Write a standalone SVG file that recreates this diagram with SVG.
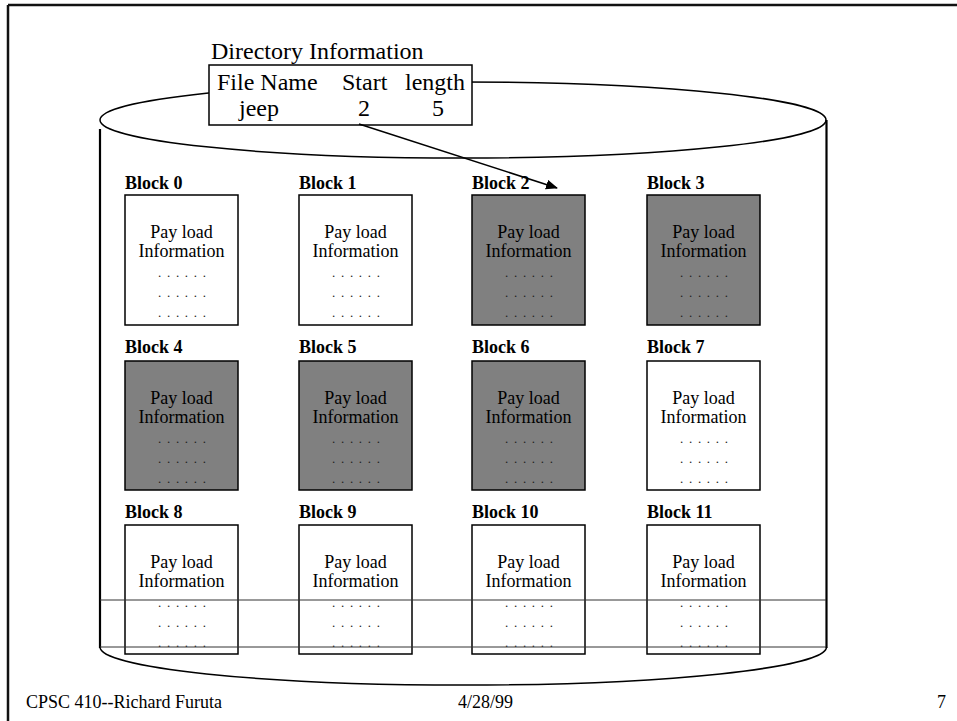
<svg xmlns="http://www.w3.org/2000/svg" width="957" height="721" viewBox="0 0 957 721">
<style>
text{font-family:"Liberation Serif","Times New Roman",serif;fill:#000}
.lbl{font-size:18px;font-weight:bold}
.pl{font-size:18px;text-anchor:middle}
.dots{font-size:13px;fill:#222}
.big{font-size:24px}
.ft{font-size:18px}
.box{stroke:#000;stroke-width:1.5}
.w{fill:#fff}
.g{fill:#808080}
.cyl{fill:none;stroke:#000;stroke-width:1.5}
.wall{stroke:#000;stroke-width:2.2;fill:none}
.hl{stroke:#333;stroke-width:1;fill:none}
</style>
<defs>
<marker id="ah" markerWidth="12" markerHeight="10" refX="11" refY="5" orient="auto" markerUnits="userSpaceOnUse">
<path d="M0,0 L12,5 L0,10 Z" fill="#000"/>
</marker>
<g id="content">
<text class="pl" x="56.5" y="43">Pay load</text>
<text class="pl" x="56.5" y="62">Information</text>
<text class="dots" x="33" y="82" textLength="48" lengthAdjust="spacing">. . . . . .</text>
<text class="dots" x="33" y="102" textLength="48" lengthAdjust="spacing">. . . . . .</text>
<text class="dots" x="33" y="122" textLength="48" lengthAdjust="spacing">. . . . . .</text>
</g>
</defs>
<rect width="957" height="721" fill="#fff"/>
<g id="frame">
<line x1="8" y1="5" x2="957" y2="5" stroke="#111" stroke-width="2.5"/>
<line x1="8" y1="5" x2="8" y2="721" stroke="#111" stroke-width="2.5"/>
</g>
<g id="cylinder">
<ellipse class="cyl" cx="463" cy="120" rx="363" ry="38"/>
<line class="wall" x1="100" y1="129" x2="100" y2="648"/>
<line class="wall" x1="826.5" y1="120" x2="826.5" y2="648"/>
<path class="cyl" d="M100,647 A363,38 0 0 0 826.5,647"/>
</g>
<g id="block0"><text class="lbl" x="125" y="189">Block 0</text><rect class="box w" x="125" y="195" width="113" height="130"/><use href="#content" x="125" y="195"/></g>
<g id="block1"><text class="lbl" x="299" y="189">Block 1</text><rect class="box w" x="299" y="195" width="113" height="130"/><use href="#content" x="299" y="195"/></g>
<g id="block2"><text class="lbl" x="472" y="189">Block 2</text><rect class="box g" x="472" y="195" width="113" height="130"/><use href="#content" x="472" y="195"/></g>
<g id="block3"><text class="lbl" x="647" y="189">Block 3</text><rect class="box g" x="647" y="195" width="113" height="130"/><use href="#content" x="647" y="195"/></g>
<g id="block4"><text class="lbl" x="125" y="353">Block 4</text><rect class="box g" x="125" y="361" width="113" height="129"/><use href="#content" x="125" y="361"/></g>
<g id="block5"><text class="lbl" x="299" y="353">Block 5</text><rect class="box g" x="299" y="361" width="113" height="129"/><use href="#content" x="299" y="361"/></g>
<g id="block6"><text class="lbl" x="472" y="353">Block 6</text><rect class="box g" x="472" y="361" width="113" height="129"/><use href="#content" x="472" y="361"/></g>
<g id="block7"><text class="lbl" x="647" y="353">Block 7</text><rect class="box w" x="647" y="361" width="113" height="129"/><use href="#content" x="647" y="361"/></g>
<g id="block8"><text class="lbl" x="125" y="518">Block 8</text><rect class="box w" x="125" y="525" width="113" height="129"/><use href="#content" x="125" y="525"/></g>
<g id="block9"><text class="lbl" x="299" y="518">Block 9</text><rect class="box w" x="299" y="525" width="113" height="129"/><use href="#content" x="299" y="525"/></g>
<g id="block10"><text class="lbl" x="472" y="518">Block 10</text><rect class="box w" x="472" y="525" width="113" height="129"/><use href="#content" x="472" y="525"/></g>
<g id="block11"><text class="lbl" x="647" y="518">Block 11</text><rect class="box w" x="647" y="525" width="113" height="129"/><use href="#content" x="647" y="525"/></g>
<g id="hlines">
<line class="hl" x1="100" y1="600" x2="826" y2="600"/>
<line class="hl" x1="100" y1="647" x2="826" y2="647"/>
</g>
<g id="directory">
<text class="big" x="211" y="59">Directory Information</text>
<rect class="box w" x="209" y="65" width="263" height="60"/>
<text class="big" x="217" y="90">File Name</text>
<text class="big" x="342" y="90">Start</text>
<text class="big" x="405" y="90">length</text>
<text class="big" x="239" y="116">jeep</text>
<text class="big" x="358" y="116">2</text>
<text class="big" x="432" y="116">5</text>
</g>
<g id="connectors">
<line x1="359" y1="124" x2="557" y2="188" stroke="#000" stroke-width="1.5" marker-end="url(#ah)"/>
</g>
<g id="footer">
<text class="ft" x="26" y="708">CPSC 410--Richard Furuta</text>
<text class="ft" x="458" y="708">4/28/99</text>
<text class="ft" x="937" y="708">7</text>
</g>
</svg>
